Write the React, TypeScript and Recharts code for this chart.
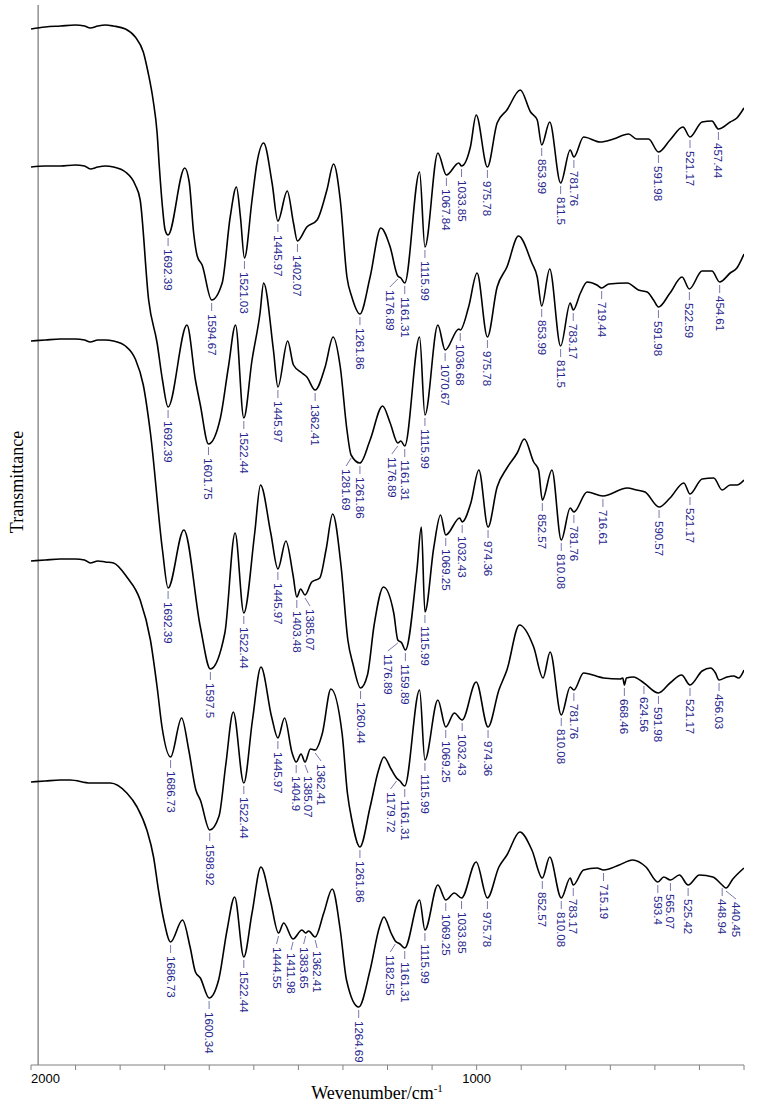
import { ComposedChart, Line, Scatter, XAxis, YAxis, ReferenceLine, Label } from "recharts";

type Pt = [number, number]; // [wavenumber cm-1, transmittance (stacked, arb. units)]

const specA: Pt[] = [
  [2000, 1036], [1968, 1038], [1934, 1039], [1901, 1040], [1880, 1039], [1867, 1037], [1850, 1039],
  [1833, 1040], [1815, 1039], [1788, 1036], [1766, 1028], [1748, 1013], [1737, 992], [1726, 965],
  [1717, 932], [1712, 898], [1705, 858], [1699, 835], [1692.39, 830], [1655, 897], [1645, 883],
  [1635, 832], [1627, 809], [1616, 800], [1594.67, 765], [1571, 782], [1553, 848], [1539, 878],
  [1530, 848], [1521.03, 807], [1504, 865], [1493, 902], [1478, 922], [1459, 882], [1445.97, 844],
  [1425, 874], [1411, 842], [1402.07, 824], [1381, 838], [1358, 845], [1336, 875], [1321, 901],
  [1306, 865], [1291, 788], [1280, 768], [1261.86, 751], [1239, 788], [1215, 837], [1194, 818],
  [1176.89, 789], [1170, 787], [1161.31, 782], [1128, 893], [1115.99, 818], [1087, 912],
  [1067.84, 890], [1040, 902], [1033.85, 899], [1014, 918], [1001, 950], [975.78, 898], [954, 942],
  [932, 955], [902, 975], [879, 953], [864, 945], [853.99, 920], [836, 943], [811.5, 882], [790, 915],
  [781.76, 908], [760, 928], [723, 923], [693, 926], [659, 931], [641, 926], [614, 926], [591.98, 913],
  [566, 925], [537, 938], [521.17, 928], [494, 943], [472, 944], [457.44, 936], [431, 943], [416, 947],
  [400, 957],
];

const specB: Pt[] = [
  [2000, 898], [1968, 899], [1934, 899], [1901, 900], [1880, 899], [1867, 896], [1850, 898], [1833, 899],
  [1815, 898], [1788, 893], [1766, 880], [1755, 865], [1736, 765], [1717, 722], [1705, 685],
  [1692.39, 658], [1650, 740], [1631, 685], [1620, 660], [1601.75, 621], [1575, 647], [1557, 698],
  [1541, 740], [1522.44, 647], [1504, 705], [1486, 752], [1478, 782], [1456, 715], [1445.97, 678],
  [1424, 724], [1411, 700], [1392, 692], [1381, 688], [1362.41, 675], [1340, 698], [1322, 728],
  [1306, 698], [1291, 635], [1281.69, 610], [1261.86, 602], [1239, 625], [1211, 659], [1194, 642],
  [1176.89, 622], [1170, 624], [1161.31, 619], [1128, 728], [1115.99, 650], [1087, 740],
  [1070.67, 715], [1040, 736], [1036.68, 735], [1018, 758], [999, 792], [975.78, 728], [954, 778],
  [932, 798], [906, 829], [876, 802], [864, 788], [853.99, 759], [836, 796], [811.5, 719], [790, 762],
  [783.17, 755], [767, 772], [752, 783], [730, 780], [719.44, 777], [703, 781], [662, 782], [637, 775],
  [617, 773], [603, 765], [591.98, 758], [566, 772], [539, 788], [522.59, 776], [494, 794], [472, 794],
  [454.61, 783], [431, 792], [416, 797], [400, 811],
];

const specC: Pt[] = [
  [2000, 724], [1968, 725], [1934, 726], [1901, 726], [1880, 725], [1867, 723], [1850, 725], [1833, 725],
  [1815, 724], [1788, 719], [1766, 706], [1748, 680], [1732, 632], [1705, 515], [1692.39, 477],
  [1657, 535], [1620, 438], [1597.5, 396], [1565, 432], [1542, 532], [1522.44, 452], [1498, 532],
  [1485, 580], [1462, 532], [1445.97, 496], [1428, 524], [1412, 490], [1403.48, 468], [1395, 476],
  [1385.07, 470], [1370, 483], [1352, 487], [1338, 515], [1323, 551], [1304, 498], [1289, 425],
  [1277, 400], [1260.44, 377], [1245, 390], [1230, 440], [1209, 478], [1186, 452], [1176.89, 425],
  [1168, 422], [1159.89, 415], [1134, 495], [1124, 538], [1115.99, 453], [1096, 518], [1081, 550],
  [1069.25, 530], [1038, 547], [1032.43, 543], [1013, 562], [995, 595], [974.36, 538], [954, 578],
  [932, 597], [909, 612], [893, 626], [872, 603], [861, 595], [852.57, 565], [831, 595], [810.08, 525],
  [790, 557], [781.76, 553], [752, 573], [716.61, 569], [662, 577], [641, 575], [622, 573],
  [590.57, 558], [566, 567], [535, 582], [521.17, 571], [494, 586], [468, 587], [449, 575], [431, 580],
  [416, 580], [400, 585],
];

const specD: Pt[] = [
  [2000, 504], [1968, 505], [1934, 506], [1901, 506], [1880, 505], [1867, 502], [1850, 504], [1833, 503],
  [1815, 502], [1785, 488], [1755, 465], [1732, 425], [1717, 378], [1706, 338], [1686.73, 308],
  [1662, 347], [1646, 315], [1630, 275], [1620, 265], [1598.92, 235], [1578, 249], [1563, 300],
  [1546, 353], [1522.44, 282], [1503, 345], [1484, 398], [1460, 348], [1445.97, 327], [1431, 347],
  [1414, 312], [1404.9, 303], [1394, 311], [1385.07, 303], [1373, 316], [1362.41, 315], [1346, 332],
  [1327, 376], [1302, 332], [1290, 272], [1280, 245], [1261.86, 218], [1239, 258], [1220, 295],
  [1208, 308], [1192, 296], [1179.72, 287], [1172, 284], [1161.31, 279], [1128, 375], [1115.99, 305],
  [1087, 365], [1069.25, 338], [1050, 352], [1032.43, 345], [1001, 383], [974.36, 338], [950, 375],
  [932, 395], [904, 440], [872, 418], [851, 387], [835, 413], [810.08, 350], [790, 378], [781.76, 375],
  [760, 392], [715, 387], [678, 386], [672, 387], [668.46, 380], [664, 387], [648, 388], [624.56, 382],
  [591.98, 372], [566, 382], [540, 390], [521.17, 380], [494, 394], [475, 397], [464, 392],
  [456.03, 385], [438, 388], [423, 389], [412, 387], [400, 395],
];

const specE: Pt[] = [
  [2000, 283], [1968, 284], [1934, 285], [1912, 285], [1867, 282], [1822, 282], [1785, 272], [1762, 258],
  [1740, 235], [1725, 208], [1714, 175], [1702, 145], [1686.73, 123], [1660, 145], [1643, 118],
  [1631, 93], [1620, 87], [1600.34, 67], [1579, 85], [1560, 135], [1543, 168], [1522.44, 108],
  [1504, 152], [1484, 198], [1463, 165], [1444.55, 132], [1433, 142], [1411.98, 126], [1392, 135],
  [1383.65, 132], [1377, 134], [1362.41, 128], [1343, 152], [1324, 176], [1306, 135], [1292, 85],
  [1264.69, 58], [1239, 95], [1218, 138], [1208, 148], [1192, 132], [1182.55, 124], [1172, 121],
  [1161.31, 117], [1128, 165], [1115.99, 135], [1087, 180], [1069.25, 165], [1050, 172],
  [1033.85, 167], [1001, 203], [975.78, 167], [950, 198], [932, 210], [903, 233], [876, 215],
  [852.57, 187], [836, 208], [810.08, 167], [790, 187], [783.17, 180], [760, 195], [730, 197],
  [715.19, 195], [680, 200], [650, 205], [620, 198], [593.4, 183], [580, 188], [565.07, 185],
  [545, 190], [525.42, 180], [500, 190], [470, 188], [448.94, 180], [440.45, 177], [425, 186],
  [400, 197],
];

// peak labels, as printed
const peaksA = ["1692.39", "1594.67", "1521.03", "1445.97", "1402.07", "1261.86", "1176.89", "1161.31",
  "1115.99", "1067.84", "1033.85", "975.78", "853.99", "811.5", "781.76", "591.98", "521.17", "457.44"];
const peaksB = ["1692.39", "1601.75", "1522.44", "1445.97", "1362.41", "1281.69", "1261.86", "1176.89",
  "1161.31", "1115.99", "1070.67", "1036.68", "975.78", "853.99", "811.5", "783.17", "719.44", "591.98",
  "522.59", "454.61"];
const peaksC = ["1692.39", "1597.5", "1522.44", "1445.97", "1403.48", "1385.07", "1260.44", "1176.89",
  "1159.89", "1115.99", "1069.25", "1032.43", "974.36", "852.57", "810.08", "781.76", "716.61", "590.57",
  "521.17"];
const peaksD = ["1686.73", "1598.92", "1522.44", "1445.97", "1404.9", "1385.07", "1362.41", "1261.86",
  "1179.72", "1161.31", "1115.99", "1069.25", "1032.43", "974.36", "810.08", "781.76", "668.46", "624.56",
  "591.98", "521.17", "456.03"];
const peaksE = ["1686.73", "1600.34", "1522.44", "1444.55", "1411.98", "1383.65", "1362.41", "1264.69",
  "1182.55", "1161.31", "1115.99", "1069.25", "1033.85", "975.78", "852.57", "810.08", "783.17", "715.19",
  "593.4", "565.07", "525.42", "448.94", "440.45"];

const xTicks = [2000, 1900, 1800, 1700, 1600, 1500, 1400, 1300, 1200, 1100, 1000, 900, 800, 700, 600, 500, 400];
const xTickLabels = [2000, 1000];

// sideways nudge (px) for crowded labels, drawn with a slanted leader
const labelShift: Record<string, number> = {
  "0:1176.89": -8,
  "1:1281.69": -5, "1:1176.89": -6,
  "2:1385.07": 5, "2:1176.89": -10,
  "3:1385.07": 3, "3:1362.41": 6, "3:1179.72": -6,
  "4:1444.55": -2, "4:1411.98": -2, "4:1383.65": -2, "4:1362.41": 2, "4:1182.55": -5, "4:440.45": 10,
};

const spectra = [specA, specB, specC, specD, specE];
const peaks = [peaksA, peaksB, peaksC, peaksD, peaksE];

function valueAt(spec: Pt[], wn: number) {
  for (let i = 0; i < spec.length - 1; i++) {
    const [w0, t0] = spec[i];
    const [w1, t1] = spec[i + 1];
    if (wn <= w0 && wn >= w1) return t0 + ((t1 - t0) * (wn - w0)) / (w1 - w0);
  }
  return spec[spec.length - 1][1];
}

const INK = "#24248c";

function PeakLabel(props: any) {
  const { cx, cy, payload } = props;
  if (cx == null || cy == null) return null;
  const x2 = cx + payload.dx;
  const y1 = cy + 11;
  const ty = y1 + 3;
  return (
    <g>
      <line x1={cx} y1={cy + 3} x2={x2} y2={y1} stroke="#55559a" strokeWidth={0.8} />
      <text x={x2} y={ty} transform={`rotate(90 ${x2} ${ty})`} fontSize={11.5}
        fontFamily="'Liberation Sans', Arial, sans-serif" fill={INK} dominantBaseline="central">
        {payload.text}
      </text>
    </g>
  );
}

function WnTick({ x, y, payload }: any) {
  const v = payload.value;
  if (!xTickLabels.includes(v)) return <g />;
  return (
    <text x={x} y={y + 11} textAnchor={v === 2000 ? "start" : "middle"} fontSize={13}
      fontFamily="'Liberation Sans', Arial, sans-serif" fill="#000">{v}</text>
  );
}

export default function App() {
  return (
    <div style={{ position: "absolute", left: 0, top: 0, background: "#fff" }}>
      <ComposedChart width={757} height={1115} margin={{ top: 5, right: 13, left: 31, bottom: 0 }}>
        <XAxis dataKey="wn" type="number" domain={[400, 2000]} reversed ticks={xTicks} interval={0}
          allowDataOverflow height={50} tickSize={5} tick={<WnTick />}
          axisLine={{ stroke: "#808080" }} tickLine={{ stroke: "#808080" }}>
          <Label content={() => (
            <text x={377} y={1099} textAnchor="middle" fontSize={18}
              fontFamily="'Liberation Serif', 'Times New Roman', serif" fill="#000">
              Wevenumber/cm<tspan dy={-7} fontSize={11}>-1</tspan>
            </text>
          )} />
        </XAxis>
        <YAxis type="number" domain={[0, 1060]} hide allowDataOverflow />
        <ReferenceLine x={1984} stroke="#808080" strokeWidth={1.3} ifOverflow="visible" />
        {spectra.map((s, i) => (
          <Line key={`s${i}`} data={s.map(([wn, t]) => ({ wn, t }))} dataKey="t" type="monotone"
            stroke="#000" strokeWidth={1.6} dot={false} activeDot={false} isAnimationActive={false} />
        ))}
        {peaks.map((list, i) => (
          <Scatter key={`p${i}`} dataKey="t" isAnimationActive={false} shape={<PeakLabel />}
            data={list.map((p) => {
              const wn = parseFloat(p);
              return { wn, t: valueAt(spectra[i], wn), text: p, dx: labelShift[`${i}:${p}`] ?? 0 };
            })} />
        ))}
      </ComposedChart>
      <svg width={30} height={1115} style={{ position: "absolute", left: 0, top: 0 }}>
        <text x={23} y={482} transform="rotate(-90 23 482)" textAnchor="middle" fontSize={18}
          fontFamily="'Liberation Serif', 'Times New Roman', serif" fill="#000">Transmittance</text>
      </svg>
    </div>
  );
}
